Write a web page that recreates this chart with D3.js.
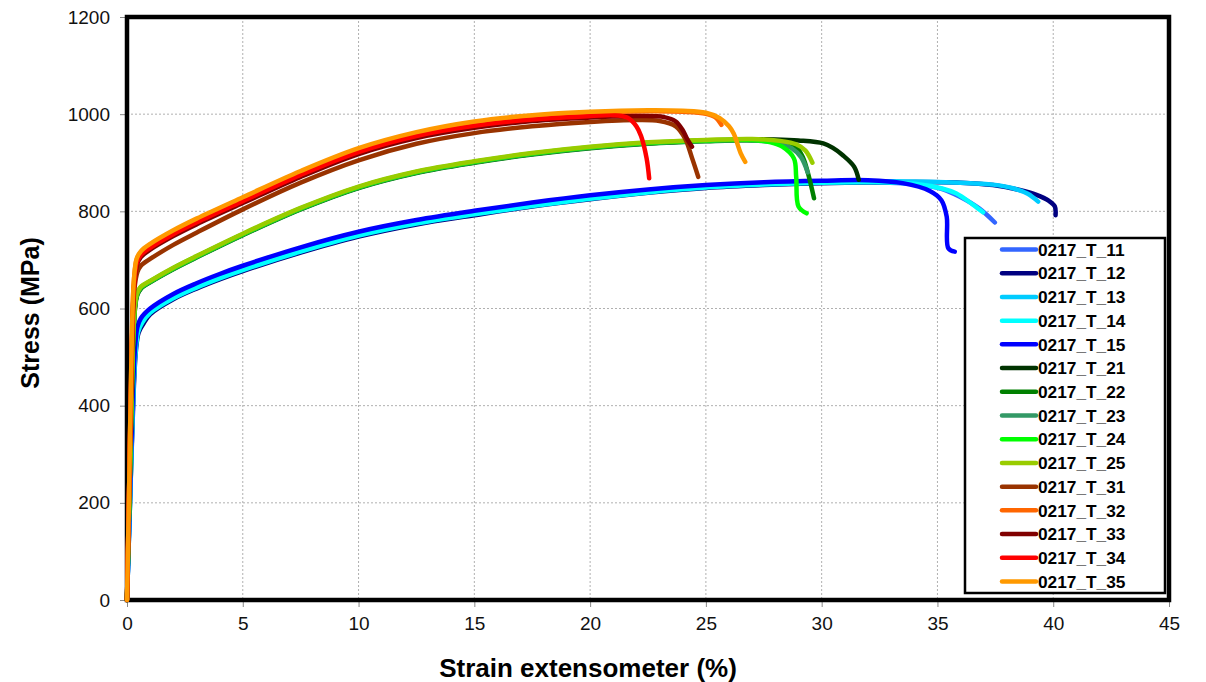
<!DOCTYPE html>
<html><head><meta charset="utf-8">
<script src="https://cdn.jsdelivr.net/npm/d3@7"></script>
<style>body{margin:0;background:#fff}svg{display:block;font-family:"Liberation Sans",Arial,Helvetica,sans-serif}</style>
</head><body><svg id="c" width="1206" height="682"></svg>
<script>
// ---- data ----
const seriesNames = ["0217_T_11","0217_T_12","0217_T_13","0217_T_14","0217_T_15","0217_T_21","0217_T_22","0217_T_23","0217_T_24","0217_T_25","0217_T_31","0217_T_32","0217_T_33","0217_T_34","0217_T_35"];
const seriesColors = ["#3366FF","#000080","#00CCFF","#00FFFF","#0000FF","#003300","#008000","#339966","#00FF00","#99CC00","#993300","#FF6600","#800000","#FF0000","#FF9900"];
const xTicks = [0,5,10,15,20,25,30,35,40,45];
const yTicks = [0,200,400,600,800,1000,1200];
// [strain %, stress MPa]
const s11 = [[0,0],[0.13,200],[0.27,420],[0.37,515],[0.48,555],[0.65,574],[1,594],[2,624],[3,646],[4,665],[5,682],[7.5,720],[10,752],[12.5,777],[15,796],[17.5,813],[20,828],[22.5,841],[25,850],[27.5,856],[30,859],[32,860],[34,856],[35.2,846],[35.97,830],[36.8,806],[37.48,777]];
const s12 = [[0,0],[0.13,200],[0.28,420],[0.38,510],[0.5,550],[0.7,568],[1,588],[2,619],[3,641],[4,660],[5,677],[7.5,715],[10,748],[12.5,773],[15,792],[17.5,810],[20,825],[22.5,838],[25,848],[27.5,854],[30,858],[33,860],[36,859],[37.4,854],[38.55,844],[39.28,834],[39.8,822],[40.07,810],[40.1,792]];
const s13 = [[0,0],[0.12,200],[0.26,420],[0.36,515],[0.47,558],[0.65,577],[1,597],[2,627],[3,649],[4,668],[5,685],[7.5,723],[10,755],[12.5,779],[15,798],[17.5,815],[20,830],[22.5,842],[25,852],[27.5,858],[30,861],[33,862],[36,859],[37.4,855],[38.3,847],[38.9,836],[39.35,820]];
const s14 = [[0,0],[0.13,200],[0.27,420],[0.37,512],[0.48,552],[0.66,571],[1,591],[2,621],[3,643],[4,662],[5,679],[7.5,717],[10,750],[12.5,775],[15,794],[17.5,811],[20,826],[22.5,839],[25,849],[27.5,855],[30,859],[32,860],[34,857],[35.2,847],[35.8,837],[36.5,815],[36.97,798]];
const s15 = [[0,0],[0.12,200],[0.25,420],[0.35,520],[0.45,562],[0.6,580],[1,600],[2,630],[3,652],[4,671],[5,688],[7.5,726],[10,758],[12.5,782],[15,801],[17.5,818],[20,833],[22.5,845],[25,854],[27.5,860],[30,863],[32,864],[33.5,858],[34.67,842],[35.17,823],[35.4,789],[35.47,724],[35.75,717]];
const s21 = [[0,0],[0.12,250],[0.26,520],[0.34,598],[0.43,628],[0.62,643],[1,655],[2,682],[3,706],[5,752],[7.5,805],[10,849],[12.5,880],[15,901],[17.5,918],[20,931],[22.5,940],[25,946],[27,948],[28,948],[29,946],[30.07,940],[30.5,930],[30.9,916],[31.4,892],[31.6,865]];
const s22 = [[0,0],[0.12,250],[0.26,520],[0.34,597],[0.44,627],[0.62,642],[1,654],[2,681],[3,705],[5,751],[7.5,804],[10,848],[12.5,879],[15,900],[17.5,917],[20,930],[22.5,939],[25,944],[27,946],[28.3,942],[28.9,932],[29.2,910],[29.4,880],[29.67,827]];
const s23 = [[0,0],[0.12,250],[0.25,520],[0.33,599],[0.43,628],[0.6,643],[1,655],[2,682],[3,706],[5,752],[7.5,805],[10,849],[12.5,880],[15,901],[17.5,918],[20,931],[22.5,940],[25,945],[27,946],[28.2,940],[28.7,930],[29.1,912],[29.4,880]];
const s24 = [[0,0],[0.12,250],[0.25,520],[0.33,600],[0.42,629],[0.6,644],[1,656],[2,683],[3,707],[5,753],[7.5,806],[10,850],[12.5,881],[15,902],[17.5,919],[20,932],[22.5,941],[25,946],[27,947],[27.8,942],[28.3,933],[28.8,909],[28.9,871],[29.0,810],[29.35,796]];
const s25 = [[0,0],[0.12,250],[0.25,520],[0.33,600],[0.42,630],[0.6,645],[1,657],[2,684],[3,708],[5,754],[7.5,807],[10,851],[12.5,882],[15,903],[17.5,920],[20,933],[22.5,942],[25,947],[27,949],[28.2,945],[28.9,938],[29.3,925],[29.6,900]];
const s31 = [[0,0],[0.1,250],[0.22,520],[0.32,640],[0.45,675],[0.6,688],[1,702],[2,731],[3,756],[5,804],[7.5,859],[10,905],[12.5,939],[15,961],[17.5,975],[20,984],[22,988],[23,986],[23.7,975],[24.1,950],[24.4,910],[24.67,871]];
const s32 = [[0,0],[0.1,250],[0.2,520],[0.3,658],[0.42,701],[0.6,716],[1,731],[2,759],[3,783],[5,827],[7.5,881],[10,928],[12.5,961],[15,983],[17.5,996],[20,1003],[22.5,1006],[24,1005],[25,1001],[25.4,994],[25.67,978]];
const s33 = [[0,0],[0.1,250],[0.21,520],[0.31,648],[0.43,690],[0.6,706],[1,721],[2,749],[3,773],[5,817],[7.5,871],[10,918],[12.5,951],[15,972],[17.5,986],[20,993],[22,996],[23.2,994],[23.7,985],[24.0,967],[24.2,948],[24.4,933]];
const s34 = [[0,0],[0.1,250],[0.21,520],[0.31,650],[0.43,695],[0.6,710],[1,725],[2,753],[3,777],[5,821],[7.5,875],[10,922],[12.5,955],[15,976],[17.5,989],[20,996],[21,998],[21.6,993],[22.0,975],[22.2,955],[22.44,909],[22.55,868]];
const s35 = [[0,0],[0.1,250],[0.2,520],[0.3,660],[0.42,703],[0.6,718],[1,733],[2,761],[3,785],[5,829],[7.5,883],[10,930],[12.5,963],[15,985],[17.5,998],[20,1005],[22.5,1008],[24,1007],[25,1003],[25.6,992],[26,975],[26.2,960],[26.5,920],[26.7,902]];
const seriesData = [s11,s12,s13,s14,s15,s21,s22,s23,s24,s25,s31,s32,s33,s34,s35];

// ---- chart ----
const svg = d3.select("#c");
const L=127, R=1169, T=17, B=600;
const x = d3.scaleLinear().domain([0,45]).range([L,R]);
const y = d3.scaleLinear().domain([0,1200]).range([B,T]);

// grid
const g = svg.append("g");
g.selectAll(".vg").data(xTicks.slice(1,-1)).join("line")
  .attr("x1",d=>x(d)).attr("x2",d=>x(d)).attr("y1",T).attr("y2",B)
  .attr("stroke","#b0b0b0").attr("stroke-width",1).attr("stroke-dasharray","2,2");
g.selectAll(".hg").data(yTicks.slice(1,-1)).join("line")
  .attr("x1",L).attr("x2",R).attr("y1",d=>y(d)).attr("y2",d=>y(d))
  .attr("stroke","#b0b0b0").attr("stroke-width",1).attr("stroke-dasharray","2,2");

// axes
const fmt = d3.format("d");
const xa = svg.append("g").attr("transform",`translate(0,${B})`)
  .call(d3.axisBottom(x).tickValues(xTicks).tickFormat(fmt).tickSize(7).tickPadding(10));
const ya = svg.append("g").attr("transform",`translate(${L},0)`)
  .call(d3.axisLeft(y).tickValues(yTicks).tickFormat(fmt).tickSize(7).tickPadding(10));
[xa,ya].forEach(a=>{
  a.select(".domain").remove();
  a.selectAll(".tick line").attr("stroke","#888");
  a.selectAll(".tick text").attr("font-size",19).attr("fill","#111")
   .attr("font-family",'"Liberation Sans",Arial,sans-serif');
});

// frame
svg.append("rect").attr("x",L).attr("y",T).attr("width",R-L).attr("height",B-T)
  .attr("fill","none").attr("stroke","#000").attr("stroke-width",4.5);

// curves
const line = d3.line().x(d=>x(d[0])).y(d=>y(d[1])).curve(d3.curveCatmullRom.alpha(0.5));
svg.append("g").selectAll("path").data(seriesData).join("path")
  .attr("d",line).attr("fill","none")
  .attr("stroke",(d,i)=>seriesColors[i]).attr("stroke-width",4.5)
  .attr("stroke-linejoin","round").attr("stroke-linecap","round");

// legend
const lg = svg.append("g");
lg.append("rect").attr("x",965).attr("y",238).attr("width",200).attr("height",355)
  .attr("fill","#fff").attr("stroke","#000").attr("stroke-width",2.5);
const ly = d3.scalePoint().domain(seriesNames).range([249.5,581.5]);
const it = lg.selectAll(".it").data(seriesNames).join("g")
  .attr("transform",d=>`translate(0,${ly(d)})`);
it.append("line").attr("x1",1002).attr("x2",1036).attr("y1",0).attr("y2",0)
  .attr("stroke",(d,i)=>seriesColors[i]).attr("stroke-width",4.5).attr("stroke-linecap","round");
it.append("text").attr("x",1038).attr("y",0).attr("dy","0.36em")
  .attr("font-size",17.3).attr("font-weight","bold").attr("fill","#000").text(d=>d);

// axis titles
svg.append("text").attr("x",588).attr("y",677).attr("text-anchor","middle")
  .attr("font-size",26).attr("font-weight","bold").text("Strain extensometer (%)");
svg.append("text").attr("transform","translate(39,313) rotate(-90)").attr("text-anchor","middle")
  .attr("font-size",25).attr("font-weight","bold").text("Stress (MPa)");
</script></body></html>
